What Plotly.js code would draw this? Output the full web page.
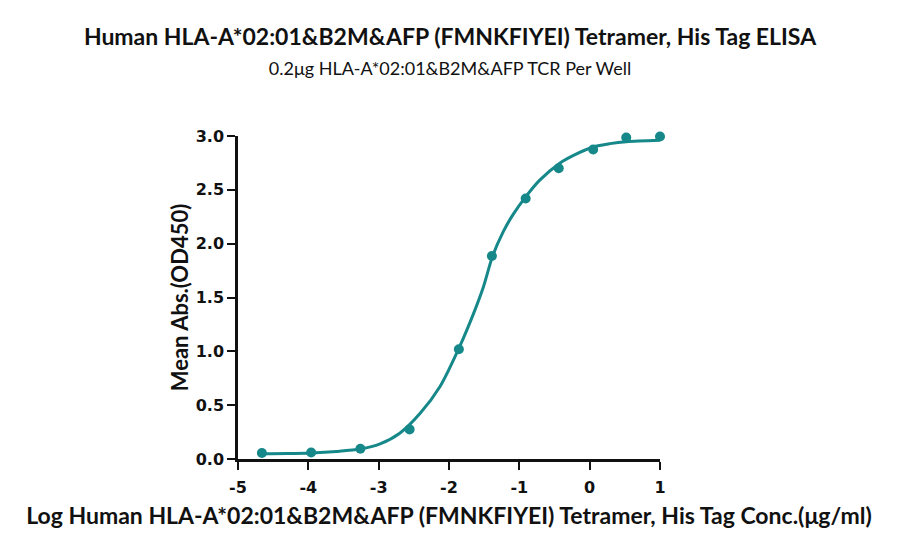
<!DOCTYPE html>
<html>
<head>
<meta charset="utf-8">
<script src="https://cdn.plot.ly/plotly-3.0.1.min.js"></script>
<style>
  body { margin: 0; background: #fff; }
  #chart { width: 900px; height: 552px; }
</style>
</head>
<body>
<div id="chart"></div>
<script>
// measured points (log conc vs mean OD450)
var logConc = [-4.66, -3.96, -3.26, -2.56, -1.86, -1.39, -0.91, -0.44, 0.05, 0.52, 1.0];
var meanOD = [0.055, 0.060, 0.095, 0.275, 1.02, 1.885, 2.42, 2.70, 2.875, 2.985, 2.995];

// fitted curve
var fitX = [-4.66, -4.30, -3.96, -3.60, -3.26, -2.98, -2.70, -2.41, -2.13, -1.86, -1.65, -1.51, -1.38, -1.23, -1.09, -0.91, -0.71, -0.43, -0.23, 0.05, 0.29, 0.52, 1.0];
var fitY = [0.048, 0.050, 0.056, 0.070, 0.092, 0.140, 0.239, 0.424, 0.671, 1.028, 1.353, 1.600, 1.885, 2.110, 2.270, 2.435, 2.590, 2.745, 2.820, 2.898, 2.929, 2.947, 2.960];

var xTicks = [-5, -4, -3, -2, -1, 0, 1];
var yTicks = [0, 0.5, 1, 1.5, 2, 2.5, 3];

var teal = '#16888a';
var titleFont = 'Lato, "Noto Sans", sans-serif';
var tickFont = '"DejaVu Sans", Verdana, sans-serif';

var fit = {
  x: fitX,
  y: fitY,
  mode: 'lines',
  line: {color: teal, width: 3, shape: 'spline', smoothing: 0.8},
  hoverinfo: 'skip',
  cliponaxis: false
};

var pts = {
  x: logConc,
  y: meanOD,
  mode: 'markers',
  marker: {color: teal, size: 10},
  cliponaxis: false
};

function bold(s) { return '<b>' + s + '</b>'; }

var layout = {
  width: 900,
  height: 552,
  margin: {l: 238, r: 240, t: 136, b: 93},
  showlegend: false,
  paper_bgcolor: '#fff',
  plot_bgcolor: '#fff',
  title: {
    text: bold('Human HLA-A*02:01&B2M&AFP (FMNKFIYEI) Tetramer, His Tag ELISA') +
          '<br><span style="font-size:18px">0.2μg HLA-A*02:01&B2M&AFP TCR Per Well</span>',
    font: {family: titleFont, size: 23, color: '#111'},
    x: 0.5,
    xanchor: 'center',
    y: 0.918,
    yanchor: 'top'
  },
  xaxis: {
    range: [-5, 1],
    tickvals: xTicks,
    ticktext: xTicks.map(function (v) { return bold(String(v)); }),
    showgrid: false,
    zeroline: false,
    showline: true,
    linecolor: '#111',
    linewidth: 2.5,
    ticks: 'outside',
    ticklen: 8,
    tickwidth: 2,
    tickcolor: '#111',
    ticklabelstandoff: 4,
    tickfont: {family: tickFont, size: 16, color: '#111'},
    title: {
      text: bold('Log Human HLA-A*02:01&B2M&AFP (FMNKFIYEI) Tetramer, His Tag Conc.(μg/ml)'),
      font: {family: titleFont, size: 23, color: '#111'},
      standoff: 12
    }
  },
  yaxis: {
    range: [0, 3],
    tickvals: yTicks,
    ticktext: yTicks.map(function (v) { return bold(v.toFixed(1)); }),
    showgrid: false,
    zeroline: false,
    showline: true,
    linecolor: '#111',
    linewidth: 2.5,
    ticks: 'outside',
    ticklen: 8,
    tickwidth: 2,
    tickcolor: '#111',
    tickfont: {family: tickFont, size: 16, color: '#111'},
    title: {
      text: bold('Mean Abs.(OD450)'),
      font: {family: titleFont, size: 22, color: '#111'},
      standoff: 2
    }
  }
};

Plotly.newPlot('chart', [fit, pts], layout, {displayModeBar: false});
</script>
</body>
</html>
